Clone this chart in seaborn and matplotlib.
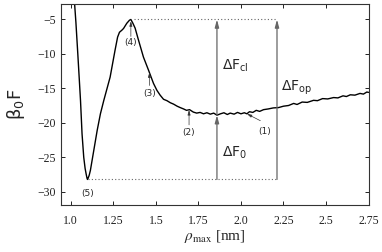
import matplotlib
matplotlib.use("Agg")
import matplotlib.pyplot as plt
import seaborn as sns
import pandas as pd

# free-energy profile
rho_max = [1.02, 1.03, 1.041, 1.05, 1.057, 1.066, 1.076, 1.084, 1.09, 1.095,
           1.098, 1.102, 1.108, 1.115, 1.135, 1.155, 1.174, 1.194, 1.231, 1.26,
           1.275, 1.286, 1.30, 1.31, 1.329, 1.345, 1.353, 1.365, 1.378, 1.398,
           1.427, 1.457, 1.486, 1.506, 1.525, 1.545, 1.565, 1.585, 1.604, 1.625,
           1.643, 1.663, 1.68, 1.698, 1.72, 1.74, 1.76, 1.78, 1.80, 1.82,
           1.84, 1.859, 1.88, 1.90, 1.92, 1.937, 1.96, 1.98, 2.0, 2.02,
           2.035, 2.05, 2.07, 2.09, 2.11, 2.133, 2.16, 2.19, 2.221, 2.25,
           2.28, 2.31, 2.33, 2.36, 2.39, 2.427, 2.45, 2.48, 2.51, 2.545,
           2.57, 2.60, 2.62, 2.643, 2.67, 2.70, 2.72, 2.74, 2.75]
beta_F = [-2.0, -5.5, -10.0, -13.8, -16.8, -21.6, -25.0, -26.6, -27.4, -28.0,
          -28.2, -28.0, -27.6, -26.9, -24.0, -21.1, -18.7, -16.75, -13.4, -9.5,
          -7.6, -6.9, -6.6, -6.35, -5.6, -5.15, -5.05, -5.6, -6.3, -8.05,
          -10.5, -12.4, -14.3, -15.3, -16.0, -16.6, -16.8, -17.1, -17.3, -17.6,
          -17.8, -18.0, -18.2, -18.1, -18.45, -18.6, -18.5, -18.7, -18.55, -18.75,
          -18.6, -18.9, -18.7, -18.55, -18.8, -18.6, -18.75, -18.5, -18.7, -18.55,
          -18.7, -18.4, -18.5, -18.2, -18.35, -18.1, -18.0, -17.85, -17.8, -17.6,
          -17.5, -17.2, -17.35, -17.0, -17.05, -16.75, -16.8, -16.5, -16.55, -16.35,
          -16.4, -16.1, -16.2, -15.95, -16.0, -15.75, -15.85, -15.55, -15.6]

# barrier levels / positions
F_top = -5.05
F_bottom = -28.2
F_open = -18.9
rho_top_start = 1.37
rho_bottom_start = 1.10
rho_cl = 1.859
rho_op = 2.212

# numbered markers: label, label position, arrow tail, arrow head
markers = ["(1)", "(2)", "(3)", "(4)", "(5)"]
marker_text_xy = [(2.14, -21.3), (1.695, -21.4), (1.462, -15.8), (1.353, -8.4), (1.098, -30.2)]
marker_tail_xy = [(2.114, -19.7), (1.695, -20.3), (1.462, -14.6), (1.353, -7.5), None]
marker_head_xy = [(2.035, -18.7), (1.695, -18.15), (1.462, -12.7), (1.353, -5.3), None]

xticks = [1.0, 1.25, 1.5, 1.75, 2.0, 2.25, 2.5, 2.75]
xtick_labels = ["1.0", "1.25", "1.5", "1.75", "2.0", "2.25", "2.5", "2.75"]
yticks = [-5, -10, -15, -20, -25, -30]

sns.set_style("ticks")
plt.rcParams['font.family'] = ['Liberation Serif', 'DejaVu Serif']
plt.rcParams['mathtext.fontset'] = 'stix'

df = pd.DataFrame({'rho': rho_max, 'F': beta_F})

fig = plt.figure(figsize=(3.82, 2.52), dpi=100)
ax = fig.add_axes([0.160, 0.1865, 0.8047, 0.7965])

sns.lineplot(data=df, x='rho', y='F', ax=ax, color='black', linewidth=1.0,
             sort=False, estimator=None)

gray = '#666666'
ax.plot([rho_top_start, rho_op], [F_top, F_top], ls=(0, (1, 2)), color=gray, lw=0.8)
ax.plot([rho_bottom_start, rho_op], [F_bottom, F_bottom], ls=(0, (1, 2)), color=gray, lw=0.8)

arrow = dict(arrowstyle='-|>,head_length=0.45,head_width=0.12', color=gray, lw=0.9,
             shrinkA=0, shrinkB=0)
ax.annotate('', xy=(rho_cl, F_top), xytext=(rho_cl, F_open), arrowprops=arrow)
ax.annotate('', xy=(rho_cl, F_open), xytext=(rho_cl, F_bottom), arrowprops=arrow)
ax.annotate('', xy=(rho_op, F_top), xytext=(rho_op, F_bottom), arrowprops=arrow)

sans = ['DejaVu Sans']
ax.text(1.89, -11.7, r'$\mathregular{\Delta F_{cl}}$', fontsize=10, family=sans, va='center')
ax.text(2.235, -15.0, r'$\mathregular{\Delta F_{op}}$', fontsize=10, family=sans, va='center')
ax.text(1.89, -24.3, r'$\mathregular{\Delta F_{0}}$', fontsize=10, family=sans, va='center')

small_arrow = dict(arrowstyle='-|>,head_length=0.28,head_width=0.08', color='#333333',
                   lw=0.5, shrinkA=0, shrinkB=0)
for lab, txy, tail, head in zip(markers, marker_text_xy, marker_tail_xy, marker_head_xy):
    ax.text(txy[0], txy[1], lab, fontsize=6.5, family=sans, ha='center', va='center')
    if tail is not None:
        ax.annotate('', xy=head, xytext=tail, arrowprops=small_arrow)

ax.set_xlim(0.943, 2.75)
ax.set_ylim(-31.9, -2.85)
ax.set_xticks(xticks)
ax.set_xticklabels(xtick_labels)
ax.set_yticks(yticks)
ax.tick_params(direction='in', length=3, width=0.7, top=True, right=True,
               labelsize=8.5, colors='#222222')
ax.tick_params(axis='x', pad=7)
for s in ax.spines.values():
    s.set_linewidth(0.8)
    s.set_color('#333333')

ax.set_xlabel(r'$\rho_{\rm max}$ [nm]', fontsize=11, labelpad=1)
ax.set_ylabel(r'$\mathregular{\beta_0F}$', fontsize=13, family=sans, labelpad=8)

fig.savefig('out.png', dpi=100)
